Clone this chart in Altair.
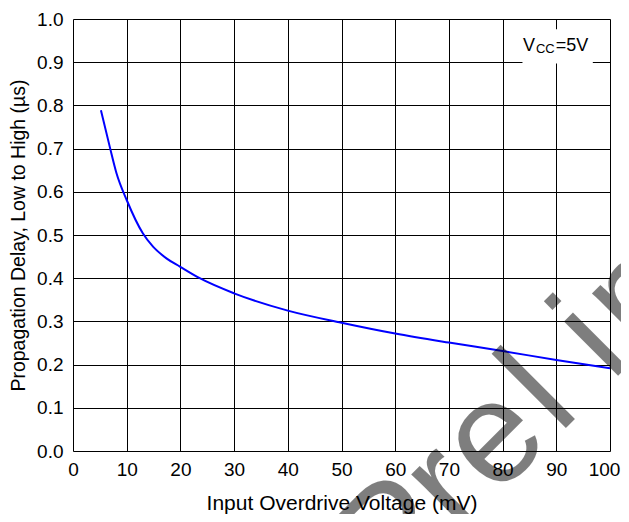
import altair as alt
import pandas as pd
import numpy as np

# Curve data
vod_mv = [5.2, 6.85, 8.1, 10, 13.0, 14.9, 17.4, 19.9, 23.6, 30, 40, 50, 60, 70, 80, 90, 100]
tpd_us = [0.789, 0.704, 0.643, 0.581, 0.504, 0.473, 0.446, 0.427, 0.400, 0.365, 0.325,
          0.297, 0.272, 0.251, 0.2315, 0.2106, 0.1914]

x_ticks = list(range(0, 101, 10))
y_ticks = [round(v * 0.1, 1) for v in range(0, 11)]

FONT = "Liberation Sans"
W, H = 537, 432

curve = pd.DataFrame({"v": vod_mv, "t": tpd_us})

xs = alt.Scale(domain=[0, 100], nice=False, zero=False)
ys = alt.Scale(domain=[0, 1.0], nice=False, zero=False)

line = alt.Chart(curve).mark_line(color="#0000ff", strokeWidth=2, interpolate="monotone").encode(
    x=alt.X("v:Q", scale=xs,
            axis=alt.Axis(values=x_ticks, title="Input Overdrive Voltage (mV)", grid=True,
                          gridColor="#000000", gridOpacity=1, gridWidth=1, domain=False,
                          ticks=False, labelPadding=9, labelFontSize=19, labelFont=FONT,
                          labelColor="#000", titleFont=FONT, titleFontSize=21,
                          titleFontWeight="normal", titleColor="#000",
                          titleBaseline="alphabetic", titleY=58.5, labelFlush=False,
                          labelOffset={"condition": {"test": "datum.value >= 100", "value": -6},
                                       "value": 0})),
    y=alt.Y("t:Q", scale=ys,
            axis=alt.Axis(values=y_ticks, format=".1f", title="Propagation Delay, Low to High (µs)",
                          grid=True, gridColor="#000000", gridOpacity=1, gridWidth=1,
                          domain=False, ticks=False, labelPadding=10, labelFontSize=19,
                          labelFont=FONT, labelColor="#000", titleFont=FONT, titleFontSize=19.5,
                          titleFontWeight="normal", titleColor="#000", titleAngle=270,
                          titleBaseline="alphabetic", titleX=-49, titleY=H / 2,
                          labelFlush=False)),
)

# V_CC label box and text
box = pd.DataFrame({"x1": [83.7], "x2": [96.8], "y1": [0.897], "y2": [0.976]})
box_mark = alt.Chart(box).mark_rect(color="white").encode(
    x=alt.X("x1:Q", scale=xs), x2="x2:Q", y=alt.Y("y1:Q", scale=ys), y2="y2:Q")

lab_main = pd.DataFrame({"x": [83.8, 89.9], "y": [0.927, 0.927], "s": ["V", "=5V"]})
lab_sub = pd.DataFrame({"x": [86.2], "y": [0.921], "s": ["CC"]})
t_main = alt.Chart(lab_main).mark_text(align="left", baseline="alphabetic", font=FONT,
                                       fontSize=18, color="#000").encode(
    x=alt.X("x:Q", scale=xs), y=alt.Y("y:Q", scale=ys), text="s:N")
t_sub = alt.Chart(lab_sub).mark_text(align="left", baseline="alphabetic", font=FONT,
                                     fontSize=13, color="#000").encode(
    x=alt.X("x:Q", scale=xs), y=alt.Y("y:Q", scale=ys), text="s:N")

# Watermark "Preliminary", letters spaced along a 45 degree line
wm_letters = list("Preliminary")
wm_u = [-100, -30, 39, 104, 178, 262, 345, 410, 480, 545, 610]
wm_v = -703
px0, py0 = 73.3, 19.0
wm_px = [(u - wm_v) / np.sqrt(2) for u in wm_u]
wm_py = [(-u - wm_v) / np.sqrt(2) for u in wm_u]
wm = pd.DataFrame({
    "x": [(p - px0) / (W / 100) for p in wm_px],
    "y": [(py0 + H - p) / H for p in wm_py],
    "s": wm_letters,
})
water = alt.Chart(wm).mark_text(align="center", baseline="alphabetic", font=FONT,
                                fontSize=145, angle=315, color="#000000", opacity=0.5).encode(
    x=alt.X("x:Q", scale=xs), y=alt.Y("y:Q", scale=ys), text="s:N")

chart = alt.layer(line, box_mark, t_main, t_sub, water).properties(
    width=W, height=H,
    autosize=alt.AutoSizeParams(type="none"),
    padding={"left": 65, "top": 11, "right": 11, "bottom": 63},
).configure_view(stroke="#000000", strokeWidth=1.5).configure(background="white")

chart.save("out.html", embed_options={"renderer": "svg", "actions": False})
